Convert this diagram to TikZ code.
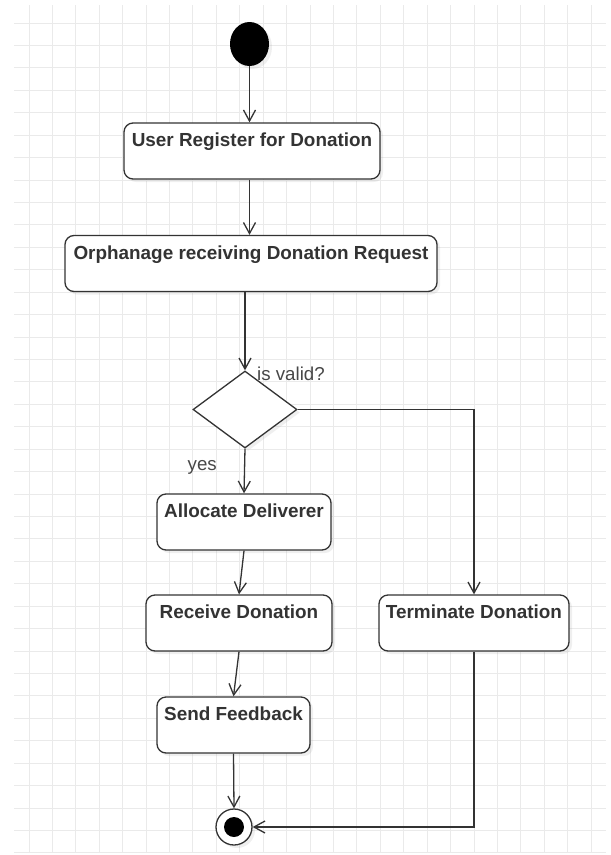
\documentclass[tikz,border=0pt]{standalone}
\usepackage{fontspec}
\setmainfont{Liberation Sans}
\usepackage{tikz}
\usetikzlibrary{shapes.geometric, arrows.meta, positioning, shadows, calc}
\usepackage{xcolor}
\definecolor{Ink}{HTML}{333333}
\definecolor{GridGray}{HTML}{EAEAEA}
\definecolor{LabelGray}{HTML}{474747}

\begin{document}
\begin{tikzpicture}[x=1pt, y=-1pt,
        softshadow/.style={drop shadow={opacity=0.12, shadow xshift=3pt, shadow yshift=-3pt}},
        activity/.style={draw=Ink, line width=1.3pt, rounded corners=9pt, fill=white, softshadow,
            font=\bfseries\fontsize{18.9}{22}\selectfont, text=Ink,
            text height=23.5pt, text depth=32.5pt, inner ysep=0pt, inner xsep=0pt},
        flow/.style={draw=Ink, line width=1.3pt, -{Straight Barb[length=11pt, width=12pt, line width=1.3pt]}},
        guard/.style={font=\fontsize{18.7}{22}\selectfont, text=LabelGray, inner sep=0pt}]
        \useasboundingbox (0,0) rectangle (611,855);
        \fill[white] (0,0) rectangle (611,855);
        \foreach \gx in {0,...,24}
            \draw[GridGray, line width=0.9pt] (29+23.42*\gx,5) -- (29+23.42*\gx,853);
        \foreach \gy in {0,...,37}
            \draw[GridGray, line width=0.9pt] (14,23+22.43*\gy) -- (606,23+22.43*\gy);

        \node[ellipse, fill=black, minimum width=39pt, minimum height=44pt, inner sep=0pt, softshadow] (start) at (249.5,44) {};
        \node[activity, minimum width=256pt] (reg) at (252,151) {User Register for Donation};
        \node[activity, minimum width=372pt] (recv) at (251,263.5) {Orphanage receiving Donation Request};
        \node[diamond, draw=Ink, line width=1.3pt, fill=white, minimum width=104pt, minimum height=77pt, inner sep=0pt, softshadow] (dec) at (245,409.5) {};
        \node[activity, minimum width=174pt] (alloc) at (244,522) {Allocate Deliverer};
        \node[activity, minimum width=186pt] (collect) at (239,623) {Receive Donation};
        \node[activity, minimum width=190pt] (term) at (474,623) {Terminate Donation};
        \node[activity, minimum width=153pt] (feedback) at (233.5,725) {Send Feedback};
        \node[circle, draw=Ink, line width=1.3pt, fill=white, minimum size=36pt, inner sep=0pt, softshadow,
            path picture={\fill[black] (path picture bounding box.center) circle (10pt);}] (finish) at (234,827) {};

        \node[guard, anchor=base west] (validlbl) at ([xshift=12pt, yshift=-10pt]dec.north) {is valid?};
        \node[guard, anchor=base east] (yeslbl) at ([xshift=-28pt, yshift=-22pt]dec.south) {yes};

        \draw[flow] (start) -- (start |- reg.north);
        \draw[flow] (start |- reg.south) -- (start |- recv.north);
        \draw[flow] (dec |- recv.south) -- (dec.north);
        \draw[flow] (dec.south) -- (alloc.north);
        \draw[flow] (alloc.south) -- (collect.north);
        \draw[flow] (collect.south) -- (feedback.north);
        \draw[flow] (feedback.south) -- (finish.north);
        \draw[flow] (dec.east) -| (term.north);
        \draw[flow] (term.south) |- (finish.east);
    \end{tikzpicture}
\end{document}
